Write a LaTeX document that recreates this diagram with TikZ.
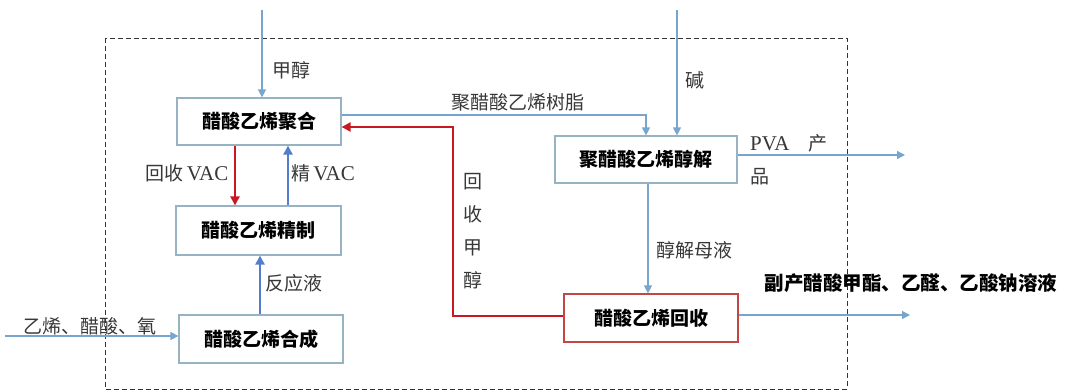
\documentclass[tikz,border=0pt]{standalone}
\usepackage{fontspec}
\setmainfont{Liberation Serif}
\newfontfamily\cjk{Noto Sans CJK SC}
\usetikzlibrary{arrows.meta}
\definecolor{lineblue}{RGB}{120,165,205}
\definecolor{thickblue}{RGB}{85,125,205}
\definecolor{flowred}{RGB}{200,25,35}
\definecolor{boxline}{RGB}{150,178,195}
\definecolor{redbox}{RGB}{195,70,70}
\definecolor{labelgray}{RGB}{55,55,55}
\begin{document}
\begin{tikzpicture}[x=1pt,y=-1pt,
  proc/.style={draw=boxline,line width=1.2pt,fill=white,inner sep=0pt,
    font=\cjk\bfseries\fontsize{19}{22}\selectfont,text=black},
  lbl/.style={inner sep=0pt,font=\cjk\fontsize{19}{22}\selectfont,text=labelgray},
  latin/.style={font=\fontsize{21}{24}\selectfont},
  flow/.style={draw=lineblue,line width=1.2pt,-{Triangle[length=8pt,width=8pt]}},
  blueflow/.style={draw=thickblue,line width=2.6pt,-{Triangle[length=9pt,width=9pt]}},
  redflow/.style={draw=flowred,line width=2.6pt,-{Triangle[length=9pt,width=9pt]}},
  border/.style={draw=black!80,line width=1pt,dash pattern=on 5pt off 3pt}]
\useasboundingbox (0,0) rectangle (1071,391);
\draw[border] (105,38) rectangle (847,389);

\node[proc,minimum width=164pt,minimum height=47pt] (b1) at (259,121.5) {醋酸乙烯聚合};
\node[proc,minimum width=165pt,minimum height=49pt] (b2) at (258.5,230.5) {醋酸乙烯精制};
\node[proc,minimum width=164pt,minimum height=48pt] (b3) at (261,339) {醋酸乙烯合成};
\node[proc,minimum width=182pt,minimum height=47pt] (b4) at (646,159.5) {聚醋酸乙烯醇解};
\node[proc,draw=redbox,minimum width=174pt,minimum height=48pt] (b5) at (651,318) {醋酸乙烯回收};

\coordinate (inM) at (262,10);
\coordinate (inK) at (677,10);
\coordinate (yr) at (0,115);
\coordinate (xr) at (646,0);
\coordinate (redx) at (453,0);
\coordinate (redtop) at (0,127);
\coordinate (redbot) at (0,316);
\coordinate (xa) at (235,0);
\coordinate (xb) at (288,0);
\coordinate (xc) at (260,0);
\coordinate (xd) at (648,0);
\coordinate (inE) at (5,336);
\coordinate (outP) at (905,155);
\coordinate (outB) at (910,315);

\draw[flow] (inM) -- (inM |- b1.north);
\draw[flow] (inK) -- (inK |- b4.north);
\draw[flow] (b1.east |- yr) -| (xr |- b4.north);
\draw[redflow] (b5.west |- redbot) -| (redx |- redtop) -- (b1.east |- redtop);
\draw[redflow] (xa |- b1.south) -- (xa |- b2.north);
\draw[blueflow] (xb |- b2.north) -- (xb |- b1.south);
\draw[blueflow] (xc |- b3.north) -- (xc |- b2.south);
\draw[flow] (inE) -- (inE -| b3.west);
\draw[flow] (outP -| b4.east) -- (outP);
\draw[flow] (xd |- b4.south) -- (xd |- b5.north);
\draw[flow] (outB -| b5.east) -- (outB);

\node[lbl] (lM) at (291,70) {甲醇};
\node[lbl] (lK) at (695,80) {碱};
\node[lbl] (lR) at (518,102) {聚醋酸乙烯树脂};
\node[lbl] (lA) at (187,173) {回收\,{\rmfamily\fontsize{21}{24}\selectfont VAC}};
\node[lbl] (lB) at (323,173) {精\,{\rmfamily\fontsize{21}{24}\selectfont VAC}};
\node[lbl,align=center,font=\cjk\fontsize{19}{33}\selectfont] (lC) at (473,231) {回\\收\\甲\\醇};
\node[lbl] (lD) at (294,283) {反应液};
\node[lbl] (lE) at (90,326) {乙烯、醋酸、氧};
\node[lbl,anchor=west] (lP) at (750,143) {{\rmfamily\fontsize{21}{24}\selectfont PVA}\quad 产};
\node[lbl,anchor=west] (lP2) at (750,177) {品};
\node[lbl] (lF) at (694,250) {醇解母液};
\node[lbl,text=black,font=\cjk\bfseries\fontsize{19.5}{22}\selectfont] (lG) at (911,283) {副产醋酸甲酯、乙醛、乙酸钠溶液};
\end{tikzpicture}
\end{document}
